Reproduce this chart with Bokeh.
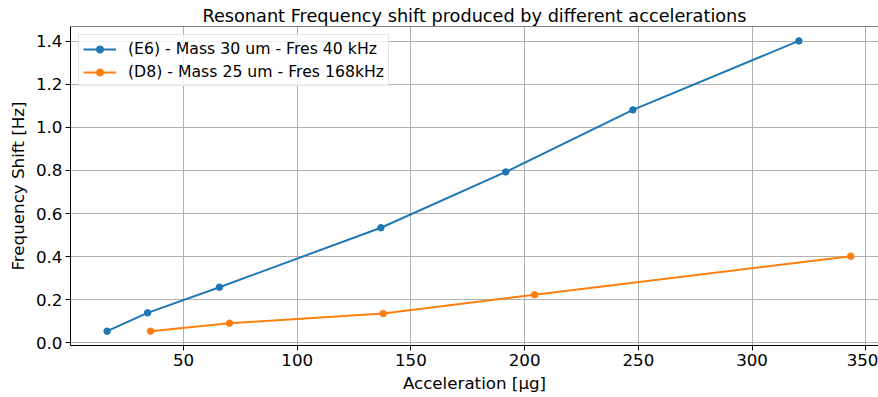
from bokeh.plotting import figure
from bokeh.models import Range1d, FixedTicker, PrintfTickFormatter, Span, Legend, LegendItem
from bokeh.embed import file_html
from bokeh.resources import INLINE

# Data
e6_accel = [16.4, 34.2, 65.8, 136.8, 191.7, 247.6, 320.6]
e6_shift = [0.054, 0.139, 0.258, 0.534, 0.793, 1.081, 1.401]
d8_accel = [35.5, 70.2, 137.8, 204.4, 343.4]
d8_shift = [0.054, 0.091, 0.136, 0.223, 0.402]

x_ticks = [50, 100, 150, 200, 250, 300, 350]
y_ticks = [0.0, 0.2, 0.4, 0.6, 0.8, 1.0, 1.2, 1.4]

label_e6 = "(E6) - Mass 30 um - Fres 40 kHz"
label_d8 = "(D8) - Mass 25 um - Fres 168kHz"
title_text = "Resonant Frequency shift produced by different accelerations"

FONT = "DejaVu Sans"
BLUE = "#1f77b4"
ORANGE = "#ff7f0e"
FS = "16.7px"

p = figure(width=878, height=397, output_backend="svg", toolbar_location=None,
           x_range=Range1d(0.3, 355.6), y_range=Range1d(-0.0125, 1.468),
           min_border_left=70, min_border_right=0, min_border_top=26, min_border_bottom=52,
           title=title_text)

p.title.text_font = FONT
p.title.text_font_size = "17.7px"
p.title.text_font_style = "normal"
p.title.text_color = "#000000"
p.title.align = "center"
p.title.offset = 4
p.title.standoff = 2

p.outline_line_color = None
p.background_fill_color = "white"
p.border_fill_color = "white"

for ax in (p.xaxis[0], p.yaxis[0]):
    ax.axis_line_color = "#000000"
    ax.axis_line_width = 1
    ax.major_tick_line_color = "#000000"
    ax.major_tick_out = 5
    ax.major_tick_in = 0
    ax.minor_tick_line_color = None
    ax.major_label_text_font = FONT
    ax.major_label_text_font_size = FS
    ax.major_label_text_color = "#000000"
    ax.axis_label_text_font = FONT
    ax.axis_label_text_font_size = FS
    ax.axis_label_text_font_style = "normal"
    ax.axis_label_text_color = "#000000"
    ax.major_label_standoff = 3

p.xaxis.ticker = FixedTicker(ticks=x_ticks)
p.yaxis.ticker = FixedTicker(ticks=y_ticks)
p.yaxis.formatter = PrintfTickFormatter(format="%.1f")
p.xaxis.axis_label = "Acceleration [μg]"
p.yaxis.axis_label = "Frequency Shift [Hz]"
p.xaxis.axis_label_standoff = 4
p.yaxis.axis_label_standoff = 5

p.grid.grid_line_color = "#b0b0b0"
p.grid.grid_line_width = 1

p.add_layout(Span(location=1.468, dimension="width", line_color="#000000", line_width=1))

l1 = p.line(e6_accel, e6_shift, line_color=BLUE, line_width=2)
s1 = p.scatter(e6_accel, e6_shift, size=6.5, fill_color=BLUE, line_color=BLUE)
l2 = p.line(d8_accel, d8_shift, line_color=ORANGE, line_width=2)
s2 = p.scatter(d8_accel, d8_shift, size=6.5, fill_color=ORANGE, line_color=ORANGE)

legend = Legend(items=[LegendItem(label=label_e6, renderers=[l1, s1]),
                       LegendItem(label=label_d8, renderers=[l2, s2])],
                location="top_left")
legend.margin = 8
legend.padding = 4
legend.spacing = 4
legend.label_height = 18
legend.glyph_height = 18
legend.glyph_width = 33
legend.label_standoff = 12
legend.label_text_font = FONT
legend.label_text_font_size = "15.7px"
legend.label_text_color = "#000000"
legend.border_line_color = "#cccccc"
legend.border_line_width = 1
legend.background_fill_alpha = 0.8
p.add_layout(legend)

open("out.html", "w").write(file_html(p, INLINE))
